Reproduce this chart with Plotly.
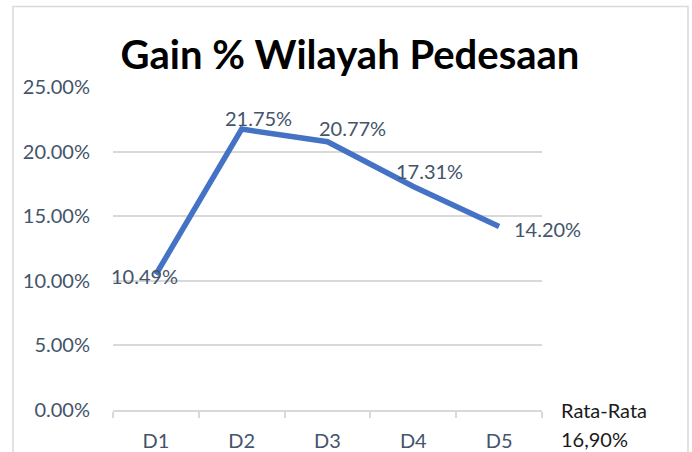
import plotly.graph_objects as go

categories = ["D1", "D2", "D3", "D4", "D5"]
gain = [0.1049, 0.2175, 0.2077, 0.1731, 0.1420]
labels = ["10.49%", "21.75%", "20.77%", "17.31%", "14.20%"]
title_text = "Gain % Wilayah Pedesaan"
avg_label = "Rata-Rata"
avg_value = "16,90%"

label_shift_x = [-11, 17, 25, 16, 48]
label_shift_y = [-1, 11, 14, 15, -2]

FONT = "Lato, Open Sans, sans-serif"
TXT = "#44546A"

L, R, T, B = 113, 150, 87, 42
W, H = 692, 452
pw, ph = W - L - R, H - T - B

def px_x(p):
    return (p - L) / pw

def px_y(p):
    return (H - B - p) / ph

fig = go.Figure()
fig.add_trace(go.Scatter(
    x=categories, y=gain, mode="lines",
    line=dict(color="#4472C4", width=5.5),
    hoverinfo="skip", showlegend=False,
))

for c, v, t, dx, dy in zip(categories, gain, labels, label_shift_x, label_shift_y):
    fig.add_annotation(x=c, y=v, text=t, showarrow=False, xshift=dx, yshift=dy,
                       font=dict(family=FONT, size=20, color=TXT))

fig.add_annotation(xref="paper", yref="paper", x=px_x(559), y=px_y(410), xanchor="left", yanchor="middle",
                   text=avg_label, showarrow=False,
                   font=dict(family=FONT, size=20, color="#1a1a1a"))
fig.add_annotation(xref="paper", yref="paper", x=px_x(559), y=px_y(439), xanchor="left", yanchor="middle",
                   text=avg_value, showarrow=False,
                   font=dict(family=FONT, size=20, color="#1a1a1a"))

fig.add_shape(type="rect", xref="paper", yref="paper",
              x0=px_x(13), x1=px_x(688), y0=px_y(470), y1=px_y(6.5),
              line=dict(color="#D9D9D9", width=1.5), fillcolor="rgba(0,0,0,0)", layer="below")

fig.update_layout(
    width=W, height=H,
    margin=dict(l=L, r=R, t=T, b=B, autoexpand=False),
    paper_bgcolor="white", plot_bgcolor="white",
    title=dict(text="<b>" + title_text + "</b>", x=350 / W, xanchor="center",
               y=1 - 55 / H, yanchor="middle",
               font=dict(family=FONT, size=40, color="black")),
    xaxis=dict(
        type="category", showgrid=False, zeroline=False, automargin=False,
        showline=True, linecolor="#D9D9D9", linewidth=1.5,
        ticks="outside", ticklen=6, tickcolor="#D9D9D9", tickwidth=1.5,
        tickson="boundaries", ticklabelstandoff=12,
        tickfont=dict(family=FONT, size=20, color=TXT),
        range=[-0.5, 4.5],
    ),
    yaxis=dict(
        range=[0, 0.2501], dtick=0.05, tickformat=".2%", automargin=False,
        showgrid=True, gridcolor="#D9D9D9", gridwidth=1.5,
        zeroline=False, showline=False, ticks="",
        ticklabelstandoff=22,
        tickfont=dict(family=FONT, size=20, color=TXT),
    ),
)

fig.write_html("out.html", config={"displayModeBar": False},
               post_script="document.body.style.margin='0';document.body.style.overflow='hidden';")
